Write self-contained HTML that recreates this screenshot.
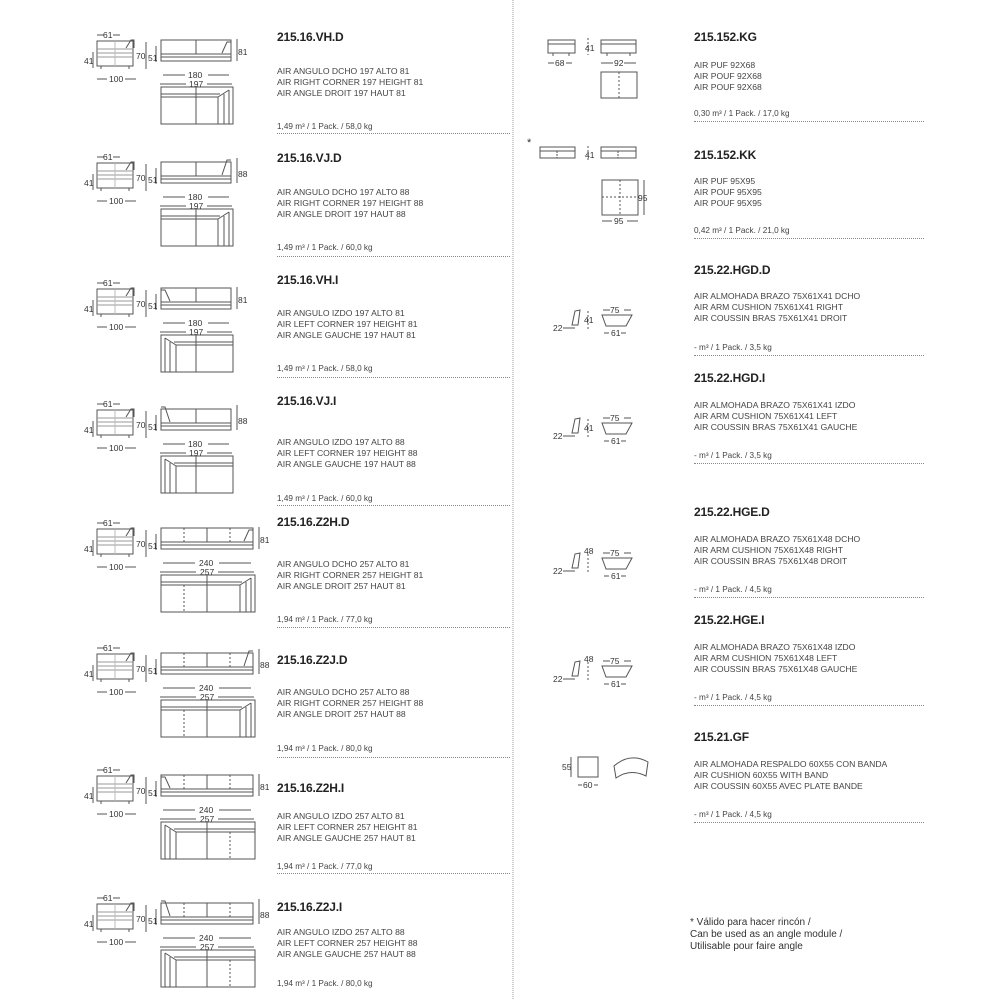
<!DOCTYPE html>
<html><head><meta charset="utf-8"><style>
body{margin:0;background:#fff;}
#p{position:relative;width:1000px;height:1000px;overflow:hidden;font-family:"Liberation Sans",sans-serif;color:#3a3a3a;}
.t{position:absolute;font-weight:bold;font-size:12px;color:#222;letter-spacing:-0.2px;}
.d{position:absolute;font-size:8.6px;line-height:11px;color:#444;white-space:nowrap;}
.c{position:absolute;font-size:8.2px;color:#444;white-space:nowrap;}
.l{position:absolute;height:0;border-top:1px dotted #888;}
svg{position:absolute;left:0;top:0;}
svg text{font-family:"Liberation Sans",sans-serif;font-size:8.5px;fill:#333;}
</style></head><body><div id="p">
<svg width="1000" height="1000">
<defs>
<g id="side" fill="none" stroke="#555" stroke-width="1">
<rect x="97" y="41" width="36" height="25"/><line x1="97" y1="49" x2="133" y2="49" stroke="#999"/><line x1="97" y1="53" x2="133" y2="53" stroke="#999"/><line x1="97" y1="57" x2="133" y2="57" stroke="#999"/><line x1="115" y1="41" x2="115" y2="66" stroke="#bbb"/>
<path d="M126 48 L131 40 L134 40 L134 48"/><line x1="101" y1="66" x2="101" y2="69"/><line x1="129" y1="66" x2="129" y2="69"/>
<line x1="93" y1="52" x2="93" y2="68"/><line x1="146" y1="42" x2="146" y2="69"/>
<line x1="97" y1="35" x2="104" y2="35"/><line x1="113" y1="35" x2="120" y2="35"/>
<line x1="97" y1="79" x2="107" y2="79"/><line x1="125" y1="79" x2="136" y2="79"/>
<line x1="156" y1="46" x2="156" y2="62"/>
</g>
</defs>
<line x1="513" y1="0" x2="513" y2="1000" stroke="#999" stroke-dasharray="1,1"/>
<!-- rows -->
<g id="rows" fill="none" stroke="#555">
</g>
</svg>
<svg width="1000" height="1000" id="g2">
<g fill="none" stroke="#555" stroke-width="1">
<!-- row1 -->
<g transform="translate(0,0)"><use href="#side"/><rect x="161" y="40" width="70" height="21"/><line x1="161" y1="54" x2="231" y2="54"/><line x1="161" y1="57" x2="231" y2="57"/><line x1="196" y1="40" x2="196" y2="54"/><path d="M222 53 L227 42 L231 42"/><line x1="237" y1="39" x2="237" y2="61"/><line x1="163" y1="75" x2="185" y2="75"/><line x1="208" y1="75" x2="229" y2="75"/><line x1="160" y1="84" x2="186" y2="84"/><line x1="207" y1="84" x2="232" y2="84"/><rect x="161" y="87" width="72" height="37"/><line x1="161" y1="94" x2="220" y2="94"/><line x1="161" y1="97" x2="218" y2="97"/><line x1="196" y1="87" x2="196" y2="124"/><line x1="218" y1="97" x2="218" y2="124"/><line x1="224" y1="94" x2="224" y2="124"/><line x1="229" y1="90" x2="229" y2="124"/><line x1="218" y1="97" x2="229" y2="90"/></g>
<!-- row2 -->
<g transform="translate(0,122)"><use href="#side"/><rect x="161" y="40" width="70" height="21"/><line x1="161" y1="54" x2="231" y2="54"/><line x1="161" y1="57" x2="231" y2="57"/><line x1="196" y1="40" x2="196" y2="54"/><path d="M222 53 L227 38 L231 38"/><line x1="237" y1="36" x2="237" y2="61"/><line x1="163" y1="75" x2="185" y2="75"/><line x1="208" y1="75" x2="229" y2="75"/><line x1="160" y1="84" x2="186" y2="84"/><line x1="207" y1="84" x2="232" y2="84"/><rect x="161" y="87" width="72" height="37"/><line x1="161" y1="94" x2="220" y2="94"/><line x1="161" y1="97" x2="218" y2="97"/><line x1="196" y1="87" x2="196" y2="124"/><line x1="218" y1="97" x2="218" y2="124"/><line x1="224" y1="94" x2="224" y2="124"/><line x1="229" y1="90" x2="229" y2="124"/><line x1="218" y1="97" x2="229" y2="90"/></g>
<!-- row3 left -->
<g transform="translate(0,248)"><use href="#side"/><rect x="161" y="40" width="70" height="21"/><line x1="161" y1="54" x2="231" y2="54"/><line x1="161" y1="57" x2="231" y2="57"/><line x1="196" y1="40" x2="196" y2="54"/><path d="M170 53 L165 42 L161 42"/><line x1="237" y1="39" x2="237" y2="61"/><line x1="163" y1="75" x2="185" y2="75"/><line x1="208" y1="75" x2="229" y2="75"/><line x1="160" y1="84" x2="186" y2="84"/><line x1="207" y1="84" x2="232" y2="84"/><rect x="161" y="87" width="72" height="37"/><line x1="174" y1="94" x2="233" y2="94"/><line x1="176" y1="97" x2="233" y2="97"/><line x1="196" y1="87" x2="196" y2="124"/><line x1="176" y1="97" x2="176" y2="124"/><line x1="170" y1="94" x2="170" y2="124"/><line x1="165" y1="90" x2="165" y2="124"/><line x1="176" y1="97" x2="165" y2="90"/></g>
<!-- row4 left -->
<g transform="translate(0,369)"><use href="#side"/><rect x="161" y="40" width="70" height="21"/><line x1="161" y1="54" x2="231" y2="54"/><line x1="161" y1="57" x2="231" y2="57"/><line x1="196" y1="40" x2="196" y2="54"/><path d="M170 53 L165 38 L161 38"/><line x1="237" y1="36" x2="237" y2="61"/><line x1="163" y1="75" x2="185" y2="75"/><line x1="208" y1="75" x2="229" y2="75"/><line x1="160" y1="84" x2="186" y2="84"/><line x1="207" y1="84" x2="232" y2="84"/><rect x="161" y="87" width="72" height="37"/><line x1="174" y1="94" x2="233" y2="94"/><line x1="176" y1="97" x2="233" y2="97"/><line x1="196" y1="87" x2="196" y2="124"/><line x1="176" y1="97" x2="176" y2="124"/><line x1="170" y1="94" x2="170" y2="124"/><line x1="165" y1="90" x2="165" y2="124"/><line x1="176" y1="97" x2="165" y2="90"/></g>
<!-- wide rows -->
<g transform="translate(0,488)"><use href="#side"/><rect x="161" y="40" width="92" height="21"/><line x1="161" y1="54" x2="253" y2="54"/><line x1="161" y1="57" x2="253" y2="57"/><line x1="207" y1="40" x2="207" y2="54"/><line x1="184" y1="40" x2="184" y2="54" stroke-dasharray="2,2"/><line x1="230" y1="40" x2="230" y2="54" stroke-dasharray="2,2"/><path d="M244 53 L249 42 L253 42"/><line x1="259" y1="39" x2="259" y2="61"/><line x1="163" y1="75" x2="195" y2="75"/><line x1="219" y1="75" x2="251" y2="75"/><line x1="160" y1="84" x2="196" y2="84"/><line x1="218" y1="84" x2="254" y2="84"/><rect x="161" y="87" width="94" height="37"/><line x1="161" y1="94" x2="242" y2="94"/><line x1="161" y1="97" x2="240" y2="97"/><line x1="207" y1="87" x2="207" y2="124"/><line x1="184" y1="97" x2="184" y2="124" stroke-dasharray="2,2"/><line x1="240" y1="97" x2="240" y2="124"/><line x1="246" y1="94" x2="246" y2="124"/><line x1="251" y1="90" x2="251" y2="124"/><line x1="240" y1="97" x2="251" y2="90"/></g>
<g transform="translate(0,613)"><use href="#side"/><rect x="161" y="40" width="92" height="21"/><line x1="161" y1="54" x2="253" y2="54"/><line x1="161" y1="57" x2="253" y2="57"/><line x1="207" y1="40" x2="207" y2="54"/><line x1="184" y1="40" x2="184" y2="54" stroke-dasharray="2,2"/><line x1="230" y1="40" x2="230" y2="54" stroke-dasharray="2,2"/><path d="M244 53 L249 38 L253 38"/><line x1="259" y1="36" x2="259" y2="61"/><line x1="163" y1="75" x2="195" y2="75"/><line x1="219" y1="75" x2="251" y2="75"/><line x1="160" y1="84" x2="196" y2="84"/><line x1="218" y1="84" x2="254" y2="84"/><rect x="161" y="87" width="94" height="37"/><line x1="161" y1="94" x2="242" y2="94"/><line x1="161" y1="97" x2="240" y2="97"/><line x1="207" y1="87" x2="207" y2="124"/><line x1="184" y1="97" x2="184" y2="124" stroke-dasharray="2,2"/><line x1="240" y1="97" x2="240" y2="124"/><line x1="246" y1="94" x2="246" y2="124"/><line x1="251" y1="90" x2="251" y2="124"/><line x1="240" y1="97" x2="251" y2="90"/></g>
<g transform="translate(0,735)"><use href="#side"/><rect x="161" y="40" width="92" height="21"/><line x1="161" y1="54" x2="253" y2="54"/><line x1="161" y1="57" x2="253" y2="57"/><line x1="207" y1="40" x2="207" y2="54"/><line x1="184" y1="40" x2="184" y2="54" stroke-dasharray="2,2"/><line x1="230" y1="40" x2="230" y2="54" stroke-dasharray="2,2"/><path d="M170 53 L165 42 L161 42"/><line x1="259" y1="39" x2="259" y2="61"/><line x1="163" y1="75" x2="195" y2="75"/><line x1="219" y1="75" x2="251" y2="75"/><line x1="160" y1="84" x2="196" y2="84"/><line x1="218" y1="84" x2="254" y2="84"/><rect x="161" y="87" width="94" height="37"/><line x1="174" y1="94" x2="255" y2="94"/><line x1="176" y1="97" x2="255" y2="97"/><line x1="207" y1="87" x2="207" y2="124"/><line x1="230" y1="97" x2="230" y2="124" stroke-dasharray="2,2"/><line x1="176" y1="97" x2="176" y2="124"/><line x1="170" y1="94" x2="170" y2="124"/><line x1="165" y1="90" x2="165" y2="124"/><line x1="176" y1="97" x2="165" y2="90"/></g>
<g transform="translate(0,863)"><use href="#side"/><rect x="161" y="40" width="92" height="21"/><line x1="161" y1="54" x2="253" y2="54"/><line x1="161" y1="57" x2="253" y2="57"/><line x1="207" y1="40" x2="207" y2="54"/><line x1="184" y1="40" x2="184" y2="54" stroke-dasharray="2,2"/><line x1="230" y1="40" x2="230" y2="54" stroke-dasharray="2,2"/><path d="M170 53 L165 38 L161 38"/><line x1="259" y1="36" x2="259" y2="61"/><line x1="163" y1="75" x2="195" y2="75"/><line x1="219" y1="75" x2="251" y2="75"/><line x1="160" y1="84" x2="196" y2="84"/><line x1="218" y1="84" x2="254" y2="84"/><rect x="161" y="87" width="94" height="37"/><line x1="174" y1="94" x2="255" y2="94"/><line x1="176" y1="97" x2="255" y2="97"/><line x1="207" y1="87" x2="207" y2="124"/><line x1="230" y1="97" x2="230" y2="124" stroke-dasharray="2,2"/><line x1="176" y1="97" x2="176" y2="124"/><line x1="170" y1="94" x2="170" y2="124"/><line x1="165" y1="90" x2="165" y2="124"/><line x1="176" y1="97" x2="165" y2="90"/></g>
<!-- right side drawings -->
<rect x="548" y="40" width="27" height="13"/><line x1="548" y1="44" x2="575" y2="44"/><line x1="553" y1="53" x2="553" y2="56"/><line x1="569" y1="53" x2="569" y2="56"/>
<line x1="588" y1="38" x2="588" y2="55" stroke-dasharray="2,2"/>
<rect x="601" y="40" width="35" height="13"/><line x1="601" y1="44" x2="636" y2="44"/><line x1="607" y1="53" x2="607" y2="56"/><line x1="630" y1="53" x2="630" y2="56"/>
<line x1="548" y1="63" x2="554" y2="63"/><line x1="566" y1="63" x2="572" y2="63"/><line x1="601" y1="63" x2="613" y2="63"/><line x1="624" y1="63" x2="636" y2="63"/>
<rect x="601" y="72" width="36" height="26"/><line x1="619" y1="72" x2="619" y2="98" stroke-dasharray="2,2"/>
<rect x="540" y="147" width="35" height="11"/><line x1="540" y1="151" x2="575" y2="151"/><line x1="557" y1="151" x2="557" y2="158" stroke-dasharray="2,1"/>
<rect x="601" y="147" width="35" height="11"/><line x1="601" y1="151" x2="636" y2="151"/><line x1="618" y1="151" x2="618" y2="158" stroke-dasharray="2,1"/>
<line x1="588" y1="146" x2="588" y2="162" stroke-dasharray="2,2"/>
<rect x="602" y="180" width="36" height="35"/><line x1="620" y1="180" x2="620" y2="215" stroke-dasharray="2,2"/><line x1="602" y1="197" x2="638" y2="197" stroke-dasharray="2,2"/>
<line x1="644" y1="180" x2="644" y2="215"/><line x1="602" y1="221" x2="612" y2="221"/><line x1="627" y1="221" x2="638" y2="221"/>
<!-- arm cushions -->
<g id="ac"><path d="M572 325 L575 311 L580 310 L578 325 Z"/><line x1="563" y1="328" x2="575" y2="328"/><line x1="588" y1="311" x2="588" y2="330" stroke-dasharray="2,2"/><path d="M602 315 L632 315 L626 326 L606 326 Z" transform="translate(0,0)"/><line x1="603" y1="310" x2="610" y2="310"/><line x1="624" y1="310" x2="631" y2="310"/><line x1="604" y1="333" x2="609" y2="333"/><line x1="621" y1="333" x2="626" y2="333"/></g>
<use href="#ac" y="108"/><use href="#ac" y="243"/><use href="#ac" y="351"/>
<rect x="578" y="757" width="20" height="20"/><line x1="571" y1="757" x2="571" y2="777"/><line x1="578" y1="785" x2="582" y2="785"/><line x1="594" y1="785" x2="598" y2="785"/>
<path d="M614 766 Q630 752 648 762 L646 776 Q630 768 616 778 Z"/>
</g>
<!-- dimension labels -->
<g>
<g><text x="103" y="38">61</text><text x="84" y="64">41</text><text x="136" y="59">70</text><text x="109" y="82">100</text><text x="148" y="61">51</text><text x="238" y="55">81</text><text x="188" y="78">180</text><text x="189" y="87">197</text></g>
<g transform="translate(0,122)"><text x="103" y="38">61</text><text x="84" y="64">41</text><text x="136" y="59">70</text><text x="109" y="82">100</text><text x="148" y="61">51</text><text x="238" y="55">88</text><text x="188" y="78">180</text><text x="189" y="87">197</text></g>
<g transform="translate(0,248)"><text x="103" y="38">61</text><text x="84" y="64">41</text><text x="136" y="59">70</text><text x="109" y="82">100</text><text x="148" y="61">51</text><text x="238" y="55">81</text><text x="188" y="78">180</text><text x="189" y="87">197</text></g>
<g transform="translate(0,369)"><text x="103" y="38">61</text><text x="84" y="64">41</text><text x="136" y="59">70</text><text x="109" y="82">100</text><text x="148" y="61">51</text><text x="238" y="55">88</text><text x="188" y="78">180</text><text x="189" y="87">197</text></g>
<g transform="translate(0,488)"><text x="103" y="38">61</text><text x="84" y="64">41</text><text x="136" y="59">70</text><text x="109" y="82">100</text><text x="148" y="61">51</text><text x="260" y="55">81</text><text x="199" y="78">240</text><text x="200" y="87">257</text></g>
<g transform="translate(0,613)"><text x="103" y="38">61</text><text x="84" y="64">41</text><text x="136" y="59">70</text><text x="109" y="82">100</text><text x="148" y="61">51</text><text x="260" y="55">88</text><text x="199" y="78">240</text><text x="200" y="87">257</text></g>
<g transform="translate(0,735)"><text x="103" y="38">61</text><text x="84" y="64">41</text><text x="136" y="59">70</text><text x="109" y="82">100</text><text x="148" y="61">51</text><text x="260" y="55">81</text><text x="199" y="78">240</text><text x="200" y="87">257</text></g>
<g transform="translate(0,863)"><text x="103" y="38">61</text><text x="84" y="64">41</text><text x="136" y="59">70</text><text x="109" y="82">100</text><text x="148" y="61">51</text><text x="260" y="55">88</text><text x="199" y="78">240</text><text x="200" y="87">257</text></g>
<text x="585" y="51">41</text><text x="555" y="66">68</text><text x="614" y="66">92</text>
<text x="527" y="146" style="font-size:11px">*</text><text x="585" y="158">41</text><text x="638" y="201">95</text><text x="614" y="224">95</text>
<text x="553" y="331">22</text><text x="584" y="323">41</text><text x="610" y="313">75</text><text x="611" y="336">61</text>
<text x="553" y="439">22</text><text x="584" y="431">41</text><text x="610" y="421">75</text><text x="611" y="444">61</text>
<text x="553" y="574">22</text><text x="584" y="554">48</text><text x="610" y="556">75</text><text x="611" y="579">61</text>
<text x="553" y="682">22</text><text x="584" y="662">48</text><text x="610" y="664">75</text><text x="611" y="687">61</text>
<text x="562" y="770">55</text><text x="583" y="788">60</text>
</g>
</svg>

<div class="t" style="left:277px;top:30px">215.16.VH.D</div>
<div class="d" style="left:277px;top:66px">AIR ANGULO DCHO 197 ALTO 81<br>AIR RIGHT CORNER 197 HEIGHT 81<br>AIR ANGLE DROIT 197 HAUT 81</div>
<div class="c" style="left:277px;top:122px">1,49 m³ / 1 Pack. / 58,0 kg</div><div class="l" style="left:277px;top:133px;width:233px"></div>

<div class="t" style="left:277px;top:151px">215.16.VJ.D</div>
<div class="d" style="left:277px;top:187px">AIR ANGULO DCHO 197 ALTO 88<br>AIR RIGHT CORNER 197 HEIGHT 88<br>AIR ANGLE DROIT 197 HAUT 88</div>
<div class="c" style="left:277px;top:243px">1,49 m³ / 1 Pack. / 60,0 kg</div><div class="l" style="left:277px;top:256px;width:233px"></div>

<div class="t" style="left:277px;top:273px">215.16.VH.I</div>
<div class="d" style="left:277px;top:308px">AIR ANGULO IZDO 197 ALTO 81<br>AIR LEFT CORNER 197 HEIGHT 81<br>AIR ANGLE GAUCHE 197 HAUT 81</div>
<div class="c" style="left:277px;top:364px">1,49 m³ / 1 Pack. / 58,0 kg</div><div class="l" style="left:277px;top:377px;width:233px"></div>

<div class="t" style="left:277px;top:394px">215.16.VJ.I</div>
<div class="d" style="left:277px;top:437px">AIR ANGULO IZDO 197 ALTO 88<br>AIR LEFT CORNER 197 HEIGHT 88<br>AIR ANGLE GAUCHE 197 HAUT 88</div>
<div class="c" style="left:277px;top:494px">1,49 m³ / 1 Pack. / 60,0 kg</div><div class="l" style="left:277px;top:505px;width:233px"></div>

<div class="t" style="left:277px;top:515px">215.16.Z2H.D</div>
<div class="d" style="left:277px;top:559px">AIR ANGULO DCHO 257 ALTO 81<br>AIR RIGHT CORNER 257 HEIGHT 81<br>AIR ANGLE DROIT 257 HAUT 81</div>
<div class="c" style="left:277px;top:615px">1,94 m³ / 1 Pack. / 77,0 kg</div><div class="l" style="left:277px;top:627px;width:233px"></div>

<div class="t" style="left:277px;top:653px">215.16.Z2J.D</div>
<div class="d" style="left:277px;top:687px">AIR ANGULO DCHO 257 ALTO 88<br>AIR RIGHT CORNER 257 HEIGHT 88<br>AIR ANGLE DROIT 257 HAUT 88</div>
<div class="c" style="left:277px;top:744px">1,94 m³ / 1 Pack. / 80,0 kg</div><div class="l" style="left:277px;top:757px;width:233px"></div>

<div class="t" style="left:277px;top:781px">215.16.Z2H.I</div>
<div class="d" style="left:277px;top:811px">AIR ANGULO IZDO 257 ALTO 81<br>AIR LEFT CORNER 257 HEIGHT 81<br>AIR ANGLE GAUCHE 257 HAUT 81</div>
<div class="c" style="left:277px;top:862px">1,94 m³ / 1 Pack. / 77,0 kg</div><div class="l" style="left:277px;top:873px;width:233px"></div>

<div class="t" style="left:277px;top:900px">215.16.Z2J.I</div>
<div class="d" style="left:277px;top:927px">AIR ANGULO IZDO 257 ALTO 88<br>AIR LEFT CORNER 257 HEIGHT 88<br>AIR ANGLE GAUCHE 257 HAUT 88</div>
<div class="c" style="left:277px;top:979px">1,94 m³ / 1 Pack. / 80,0 kg</div>

<div class="t" style="left:694px;top:30px">215.152.KG</div>
<div class="d" style="left:694px;top:60px">AIR PUF 92X68<br>AIR POUF 92X68<br>AIR POUF 92X68</div>
<div class="c" style="left:694px;top:109px">0,30 m³ / 1 Pack. / 17,0 kg</div><div class="l" style="left:694px;top:121px;width:230px"></div>

<div class="t" style="left:694px;top:148px">215.152.KK</div>
<div class="d" style="left:694px;top:176px">AIR PUF 95X95<br>AIR POUF 95X95<br>AIR POUF 95X95</div>
<div class="c" style="left:694px;top:226px">0,42 m³ / 1 Pack. / 21,0 kg</div><div class="l" style="left:694px;top:238px;width:230px"></div>

<div class="t" style="left:694px;top:263px">215.22.HGD.D</div>
<div class="d" style="left:694px;top:291px">AIR ALMOHADA BRAZO 75X61X41 DCHO<br>AIR ARM CUSHION 75X61X41 RIGHT<br>AIR COUSSIN BRAS 75X61X41 DROIT</div>
<div class="c" style="left:694px;top:343px">- m³ / 1 Pack. / 3,5 kg</div><div class="l" style="left:694px;top:355px;width:230px"></div>

<div class="t" style="left:694px;top:371px">215.22.HGD.I</div>
<div class="d" style="left:694px;top:400px">AIR ALMOHADA BRAZO 75X61X41 IZDO<br>AIR ARM CUSHION 75X61X41 LEFT<br>AIR COUSSIN BRAS 75X61X41 GAUCHE</div>
<div class="c" style="left:694px;top:451px">- m³ / 1 Pack. / 3,5 kg</div><div class="l" style="left:694px;top:463px;width:230px"></div>

<div class="t" style="left:694px;top:505px">215.22.HGE.D</div>
<div class="d" style="left:694px;top:534px">AIR ALMOHADA BRAZO 75X61X48 DCHO<br>AIR ARM CUSHION 75X61X48 RIGHT<br>AIR COUSSIN BRAS 75X61X48 DROIT</div>
<div class="c" style="left:694px;top:585px">- m³ / 1 Pack. / 4,5 kg</div><div class="l" style="left:694px;top:597px;width:230px"></div>

<div class="t" style="left:694px;top:613px">215.22.HGE.I</div>
<div class="d" style="left:694px;top:642px">AIR ALMOHADA BRAZO 75X61X48 IZDO<br>AIR ARM CUSHION 75X61X48 LEFT<br>AIR COUSSIN BRAS 75X61X48 GAUCHE</div>
<div class="c" style="left:694px;top:693px">- m³ / 1 Pack. / 4,5 kg</div><div class="l" style="left:694px;top:705px;width:230px"></div>

<div class="t" style="left:694px;top:730px">215.21.GF</div>
<div class="d" style="left:694px;top:759px">AIR ALMOHADA RESPALDO 60X55 CON BANDA<br>AIR CUSHION 60X55 WITH BAND<br>AIR COUSSIN 60X55 AVEC PLATE BANDE</div>
<div class="c" style="left:694px;top:810px">- m³ / 1 Pack. / 4,5 kg</div><div class="l" style="left:694px;top:822px;width:230px"></div>

<div class="d" style="left:690px;top:917px;font-size:10px;line-height:12px;color:#333">* Válido para hacer rincón /<br>Can be used as an angle module /<br>Utilisable pour faire angle</div>
</div></body></html>
